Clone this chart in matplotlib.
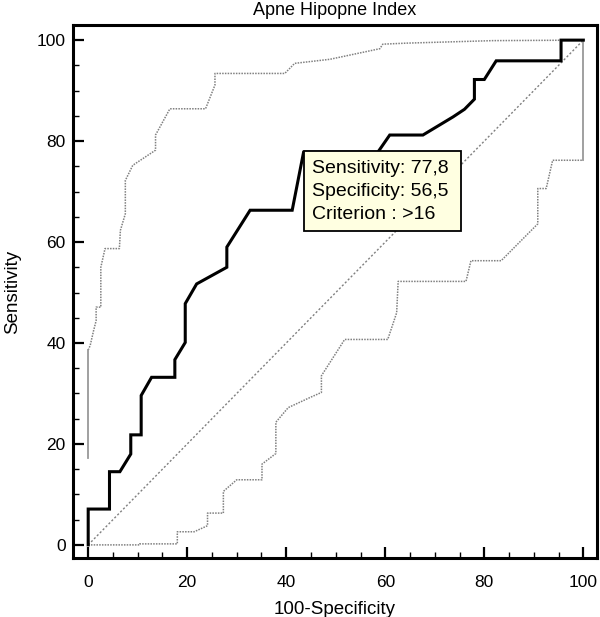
import numpy as np
import matplotlib
matplotlib.use("Agg")
from matplotlib import pyplot as plt
from matplotlib.patches import Rectangle
from matplotlib.ticker import MultipleLocator

plt.rcParams['font.family'] = ['Liberation Sans', 'DejaVu Sans']

# ROC curve (100-Specificity, Sensitivity)
roc_x = [0, 0, 4.3, 4.3, 6.4, 8.6, 8.6, 10.7, 10.7, 12.8, 17.5, 17.5, 19.6, 19.6,
         21.9, 28, 28, 32.7, 41.2, 43.5, 58.5, 60.9, 67.6, 73.7, 76, 78, 78, 80,
         82.4, 95.5, 95.5, 100]
roc_y = [0, 7.1, 7.1, 14.5, 14.5, 18, 21.8, 21.8, 29.6, 33.2, 33.2, 36.7, 40.1, 47.8,
         51.7, 55, 59, 66.3, 66.3, 77.8, 77.8, 81.2, 81.2, 84.8, 86.3, 88.3, 92.2, 92.2,
         95.9, 95.9, 100, 100]

# upper 95% confidence bound
upper_x = [0, 0.4, 1.1, 1.6, 1.6, 2.55, 2.55, 3.4, 6.3, 6.5, 7.5, 7.5, 9, 13.6, 13.6,
           16.5, 23.7, 25.6, 25.6, 39.7, 41.7, 48.8, 58.9, 59.5, 64.2, 81.7, 100]
upper_y = [38.6, 39.5, 42.5, 44.4, 47.1, 47.1, 55, 58.7, 58.7, 62.3, 65.6, 72.2, 75.2,
           78.2, 81.2, 86.4, 86.4, 91.1, 93.4, 93.4, 95.4, 96.2, 98.3, 99.2, 99.4, 99.9, 100]
upper_solid_x = [0, 0]
upper_solid_y = [17.3, 38.6]

# lower 95% confidence bound
lower_x = [0, 10.4, 10.4, 18, 18, 21.4, 24.1, 24.1, 27.3, 27.3, 30, 35.1, 35.1, 37.9,
           37.9, 40.4, 44.8, 47.1, 47.1, 51.8, 60.5, 62.3, 62.6, 76.3, 77.3, 83.4, 90.8,
           90.8, 92.5, 93.8, 100]
lower_y = [0, 0, 0.2, 0.2, 2.6, 2.6, 3.8, 6.3, 6.3, 10.6, 12.9, 12.9, 16, 18.1, 24.3,
           27.2, 29.2, 30.2, 33.5, 40.7, 40.7, 46, 52.2, 52.2, 56.3, 56.3, 63.6, 70.6,
           70.6, 76.2, 76.2]
lower_solid_x = [100, 100]
lower_solid_y = [76.2, 100]

# criterion point shown in the box
crit_sens = 77.8
crit_spec = 56.5
crit_label = ">16"

fig = plt.figure(figsize=(6, 6.17), dpi=100)
ax = fig.add_axes([0.121, 0.0956, 0.8735, 0.8639])

gray = '#808080'
ax.plot([0, 100], [0, 100], color=gray, lw=1.0, ls=(0, (1.5, 1.5)))
ax.plot(upper_x, upper_y, color=gray, lw=1.1, ls=(0, (1, 0.8)))
ax.plot(lower_x, lower_y, color=gray, lw=1.1, ls=(0, (1, 0.8)))
ax.plot(upper_solid_x, upper_solid_y, color='#999999', lw=1.3)
ax.plot(lower_solid_x, lower_solid_y, color='#999999', lw=1.3)
ax.plot(roc_x, roc_y, color='black', lw=2.2, solid_joinstyle='miter')

# label box anchored at the criterion point
bx = 100 - crit_spec
box = Rectangle((bx, crit_sens - 15.6), 31.7, 15.9, facecolor='#ffffe1',
                edgecolor='black', lw=1.3, zorder=5)
ax.add_patch(box)
txt = "Sensitivity: %s\nSpecificity: %s\nCriterion : %s" % (
    str(crit_sens).replace('.', ','), str(crit_spec).replace('.', ','), crit_label)
ax.text(bx + 1.6, crit_sens - 1.5, txt, fontsize=14, va='top', ha='left',
        linespacing=1.47, zorder=6)

ax.set_xlim(-3.15, 102.7)
ax.set_ylim(-2.6, 103)
ax.xaxis.set_major_locator(MultipleLocator(20))
ax.xaxis.set_minor_locator(MultipleLocator(5))
ax.yaxis.set_major_locator(MultipleLocator(20))
ax.yaxis.set_minor_locator(MultipleLocator(5))
ax.tick_params(which='both', direction='in', top=False, right=False)
ax.tick_params(which='major', length=8, width=1.6, labelsize=12.5, pad=5)
ax.tick_params(which='minor', length=4.5, width=1.0)
ax.tick_params(axis='x', which='major', pad=12)
for s in ax.spines.values():
    s.set_linewidth(2.2)

ax.set_title("Apne Hipopne Index", fontsize=13, pad=7)
ax.set_xlabel("100-Specificity", fontsize=13.5, labelpad=8)
ax.set_ylabel("Sensitivity", fontsize=13.5, labelpad=11)

fig.savefig("out.png", dpi=100)
